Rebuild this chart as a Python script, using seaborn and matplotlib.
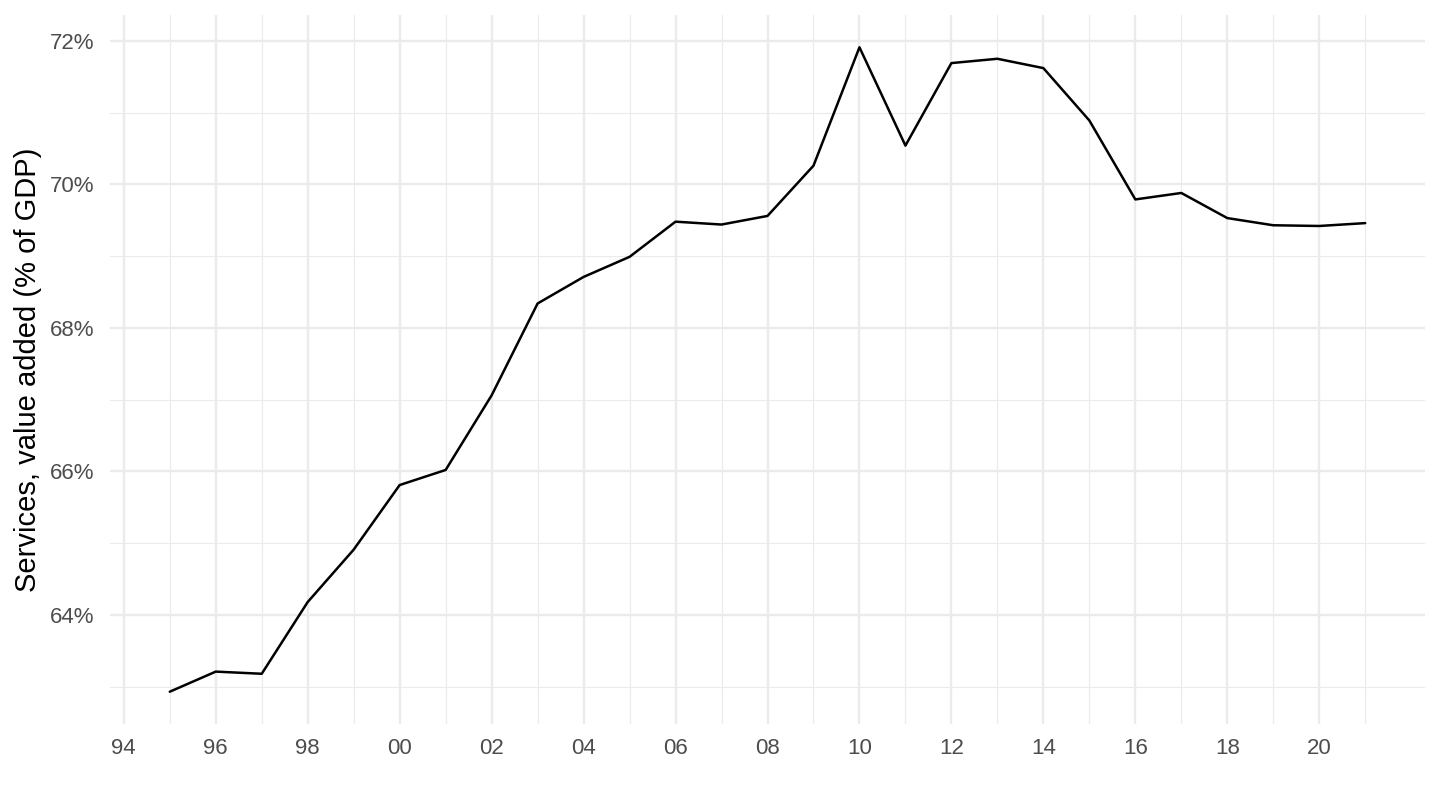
import numpy as np
import pandas as pd
import seaborn as sns
import matplotlib.pyplot as plt
from matplotlib.ticker import FixedLocator, FuncFormatter

# Services, value added (% of GDP)
years = list(range(1995, 2022))
services_pct = [62.93, 63.21, 63.18, 64.18, 64.91, 65.81, 66.02, 67.06, 68.34,
                68.71, 68.99, 69.48, 69.44, 69.56, 70.26, 71.91, 70.54, 71.69,
                71.75, 71.62, 70.89, 69.79, 69.88, 69.53, 69.43, 69.42, 69.46]
x_major = list(range(1994, 2021, 2))
x_minor = list(range(1995, 2023, 2))
y_major = [64, 66, 68, 70, 72]
y_minor = [63, 65, 67, 69, 71]

df = pd.DataFrame({"year": years, "value": services_pct})

sns.set_style("white")
plt.rcParams['font.family'] = ['Liberation Sans', 'DejaVu Sans']

fig = plt.figure(figsize=(14.4, 8.1), dpi=100)
ax = fig.add_axes([110 / 1440, 1 - 724 / 810, 1315 / 1440, 709 / 810])

sns.lineplot(data=df, x="year", y="value", color="black", linewidth=1.8, ax=ax)

ax.set_xlim(1993.7, 2022.3)
ax.set_ylim(62.48, 72.36)

ax.xaxis.set_major_locator(FixedLocator(x_major))
ax.xaxis.set_minor_locator(FixedLocator(x_minor))
ax.yaxis.set_major_locator(FixedLocator(y_major))
ax.yaxis.set_minor_locator(FixedLocator(y_minor))
ax.xaxis.set_major_formatter(FuncFormatter(lambda v, p: f"{int(v) % 100:02d}"))
ax.yaxis.set_major_formatter(FuncFormatter(lambda v, p: f"{int(v)}%"))

ax.grid(which="major", color="#ebebeb", linewidth=1.7)
ax.grid(which="minor", color="#ebebeb", linewidth=0.85)
ax.set_axisbelow(True)
for s in ax.spines.values():
    s.set_visible(False)

ax.tick_params(which="both", length=0)
ax.tick_params(axis="x", labelsize=16, labelcolor="#4d4d4d", pad=10)
ax.tick_params(axis="y", labelsize=16, labelcolor="#4d4d4d", pad=11)

ax.set_xlabel("")
ax.set_ylabel("Services, value added (% of GDP)", fontsize=21, color="black", labelpad=6)

fig.savefig("out.png", dpi=100)
